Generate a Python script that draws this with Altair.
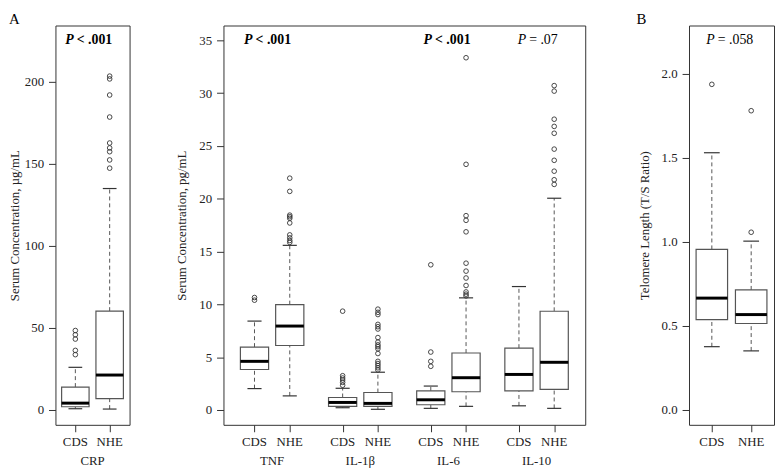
import altair as alt
import pandas as pd

# ---------------- data ----------------
GROUPS = ["CDS", "NHE"]
# five-number summaries: lower whisker, Q1, median, Q3, upper whisker
CRP_CDS = [0.8, 2.0, 4.2, 14.0, 26.0]
CRP_NHE = [0.6, 7.0, 21.3, 60.2, 134.8]
CRP_CDS_OUT = [48.4, 45.8, 43.2, 36.3, 33.7]
CRP_NHE_OUT = [203.2, 201.5, 191.7, 178.3, 162.5, 159.5, 157.2, 152.2, 147.2]

CYTOKINES = ["TNF", "IL-1β", "IL-6", "IL-10"]
TNF_CDS = [2.03, 3.84, 4.61, 5.96, 8.42]
TNF_NHE = [1.34, 6.11, 7.95, 9.98, 15.59]
IL1B_CDS = [0.22, 0.35, 0.72, 1.19, 2.06]
IL1B_NHE = [0.07, 0.35, 0.63, 1.66, 3.58]
IL6_CDS = [0.16, 0.50, 0.97, 1.81, 2.27]
IL6_NHE = [0.35, 1.73, 3.06, 5.40, 10.62]
IL10_CDS = [0.40, 1.81, 3.37, 5.86, 11.69]
IL10_NHE = [0.16, 1.96, 4.52, 9.35, 20.05]

TNF_CDS_OUT = [10.65, 10.40]
TNF_NHE_OUT = [21.95, 20.70, 18.45, 18.30, 18.15, 17.71, 16.58, 16.30, 16.05, 15.87]
IL1B_CDS_OUT = [9.36, 3.25, 3.03, 2.84, 2.62, 2.35]
IL1B_NHE_OUT = [9.55, 9.25, 9.04, 8.11, 7.89, 7.67, 6.86, 6.43, 6.17, 6.00, 5.80,
                5.35, 4.61, 4.40, 4.21, 4.00, 3.80]
IL6_CDS_OUT = [13.75, 5.49, 4.61, 4.14]
IL6_NHE_OUT = [33.35, 23.26, 18.40, 17.96, 16.87, 13.90, 13.15, 12.50, 11.79,
               11.18, 10.97, 10.80]
IL10_CDS_OUT = []
IL10_NHE_OUT = [30.71, 30.19, 27.53, 26.85, 26.20, 24.70, 23.64, 22.61, 21.80, 21.36]

TEL_CDS = [0.377, 0.538, 0.666, 0.956, 1.531]
TEL_NHE = [0.352, 0.515, 0.568, 0.715, 1.005]
TEL_CDS_OUT = [1.938]
TEL_NHE_OUT = [1.781, 1.058]

P_CRP = [("P", "< .001", 1.4, 225, True)]
P_CYTO = [("P", "< .001", 1.38, 35, True), ("P", "< .001", 6.47, 35, True),
          ("P", "= .07", 9.04, 35, False)]
P_TEL = [("P", "= .058", 1.45, 2.2, False)]

POS2 = [1, 2]
POS8 = [1, 2, 3.5, 4.5, 6, 7, 8.5, 9.5]
CRP_CENTER = [1.5]
CRP_NAME = ["CRP"]
CYTO_CENTERS = [1.5, 4.0, 6.5, 9.0]

FONT = "Liberation Serif"
BOXC = "#555555"
INK = "#222222"
PANEL_H = 404


def stats_frame(positions, summaries):
    rows = []
    for p, s in zip(positions, summaries):
        rows.append(dict(pos=p, low=s[0], q1=s[1], med=s[2], q3=s[3], high=s[4],
                         xl=p - 0.4, xr=p + 0.4, cl=p - 0.2, cr=p + 0.2))
    return pd.DataFrame(rows)


def out_frame(positions, outs):
    rows = []
    for p, vals in zip(positions, outs):
        for v in vals:
            rows.append(dict(pos=p, val=v))
    return pd.DataFrame(rows, columns=["pos", "val"])


def panel(stats, outs, xdom, ydom, width, yvals, yfmt, ytitle, ytpad,
          xvals, xlabels, ptexts, letter=None, letter_dx=0,
          names=None, centers=None):
    xs = alt.Scale(domain=xdom, nice=False, zero=False)
    ys = alt.Scale(domain=ydom, nice=False, zero=False)
    xaxis = alt.Axis(values=xvals, labels=False, title=None, tickSize=7,
                     grid=False, domain=False, tickColor="#333")
    yaxis = alt.Axis(values=yvals, format=yfmt, title=ytitle, tickSize=7, labelPadding=5,
                     grid=False, domain=False, labelFlush=False, labelOverlap=False,
                     labelFont=FONT, labelFontSize=13, labelColor=INK, tickColor="#333",
                     titleFont=FONT, titleFontSize=13, titleFontWeight="normal",
                     titleColor=INK, titlePadding=ytpad)

    def X(f):
        return alt.X(f, scale=xs, axis=xaxis)

    def Y(f):
        return alt.Y(f, scale=ys, axis=yaxis)

    base = alt.Chart(stats)
    layers = [
        base.mark_rule(strokeDash=[4, 3], color=BOXC, strokeWidth=1).encode(
            x=X("pos:Q"), y=Y("q3:Q"), y2="high:Q"),
        base.mark_rule(strokeDash=[4, 3], color=BOXC, strokeWidth=1).encode(
            x=X("pos:Q"), y=Y("low:Q"), y2="q1:Q"),
        base.mark_rule(color="#333", strokeWidth=1.2).encode(
            x=X("cl:Q"), x2="cr:Q", y=Y("high:Q")),
        base.mark_rule(color="#333", strokeWidth=1.2).encode(
            x=X("cl:Q"), x2="cr:Q", y=Y("low:Q")),
        base.mark_rect(fill="white", stroke=BOXC, strokeWidth=1.2).encode(
            x=X("xl:Q"), x2="xr:Q", y=Y("q1:Q"), y2="q3:Q"),
        base.mark_rule(color="black", strokeWidth=3).encode(
            x=X("xl:Q"), x2="xr:Q", y=Y("med:Q")),
        alt.Chart(outs).mark_point(shape="circle", filled=False, size=22,
                                   color="#333", strokeWidth=0.9, opacity=1).encode(
            x=X("pos:Q"), y=Y("val:Q")),
    ]
    # group labels under the ticks (CDS / NHE)
    tdf = pd.DataFrame({"x": xvals, "lab": xlabels})
    layers.append(alt.Chart(tdf).mark_text(
        baseline="middle", align="center", font=FONT, fontSize=13, color=INK).encode(
        x=X("x:Q"), y=alt.value(PANEL_H + 17), text="lab:N"))
    if names:
        ndf = pd.DataFrame({"x": centers, "name": names})
        layers.append(alt.Chart(ndf).mark_text(
            baseline="middle", align="center", font=FONT, fontSize=13, color=INK).encode(
            x=X("x:Q"), y=alt.value(PANEL_H + 37), text="name:N"))
    for (p, rest, px, py, bold) in ptexts:
        pdf = pd.DataFrame({"x": [px], "y": [py]})
        tw = 6.1 * len(rest) if bold else 5.9 * len(rest)
        total = 8.6 + 3 + tw
        pr = -total / 2 + 8.6
        weight = "bold" if bold else "normal"
        layers.append(alt.Chart(pdf).mark_text(
            text=p, align="right", baseline="middle", dx=pr, font=FONT, fontSize=14,
            fontStyle="italic", fontWeight=weight, color="black").encode(
            x=X("x:Q"), y=Y("y:Q")))
        layers.append(alt.Chart(pdf).mark_text(
            text=rest, align="left", baseline="middle", dx=pr + 3, font=FONT, fontSize=14,
            fontWeight=weight, color="black").encode(
            x=X("x:Q"), y=Y("y:Q")))
    if letter:
        ldf = pd.DataFrame({"t": [letter]})
        layers.append(alt.Chart(ldf).mark_text(
            align="left", baseline="top", font=FONT, fontSize=15, color="black").encode(
            x=alt.value(letter_dx), y=alt.value(-14), text="t:N"))
    return alt.layer(*layers).properties(
        width=width, height=PANEL_H,
        view=alt.ViewBackground(stroke="#333", strokeWidth=1))


p1 = panel(stats_frame(POS2, [CRP_CDS, CRP_NHE]),
           out_frame(POS2, [CRP_CDS_OUT, CRP_NHE_OUT]),
           [0.42, 2.58], [-9, 234], 75, [0, 50, 100, 150, 200], "d",
           "Serum Concentration, µg/mL", 3, POS2, GROUPS, P_CRP,
           letter="A", letter_dx=-47, names=CRP_NAME, centers=CRP_CENTER)

p2 = panel(stats_frame(POS8, [TNF_CDS, TNF_NHE, IL1B_CDS, IL1B_NHE,
                              IL6_CDS, IL6_NHE, IL10_CDS, IL10_NHE]),
           out_frame(POS8, [TNF_CDS_OUT, TNF_NHE_OUT, IL1B_CDS_OUT, IL1B_NHE_OUT,
                            IL6_CDS_OUT, IL6_NHE_OUT, IL10_CDS_OUT, IL10_NHE_OUT]),
           [0.12, 10.38], [-1.4, 36.4], 366, [0, 5, 10, 15, 20, 25, 30, 35], "d",
           "Serum Concentration, pg/mL", 10, POS8, GROUPS * 4, P_CYTO,
           names=CYTOKINES, centers=CYTO_CENTERS)

p3 = panel(stats_frame(POS2, [TEL_CDS, TEL_NHE]),
           out_frame(POS2, [TEL_CDS_OUT, TEL_NHE_OUT]),
           [0.42, 2.58], [-0.088, 2.288], 86, [0, 0.5, 1.0, 1.5, 2.0], ".1f",
           "Telomere Length (T/S Ratio)", 10, POS2, GROUPS, P_TEL,
           letter="B", letter_dx=-53)


def spacer(w):
    df = pd.DataFrame({"a": [0]})
    return alt.Chart(df).mark_point(opacity=0).encode(
        x=alt.X("a:Q", axis=None), y=alt.Y("a:Q", axis=None)).properties(
        width=w, height=PANEL_H, view=alt.ViewBackground(stroke="transparent"))


chart = alt.hconcat(p1, spacer(95), p2, spacer(105), p3, spacing=0, bounds="flush",
                    padding=0, background="white").configure_axis(
    labelFont=FONT, titleFont=FONT, labelFontSize=13, titleFontSize=13,
    labelColor=INK, titleColor=INK).configure_text(font=FONT)

chart.save("out.html", embed_options={"renderer": "svg", "actions": False})
